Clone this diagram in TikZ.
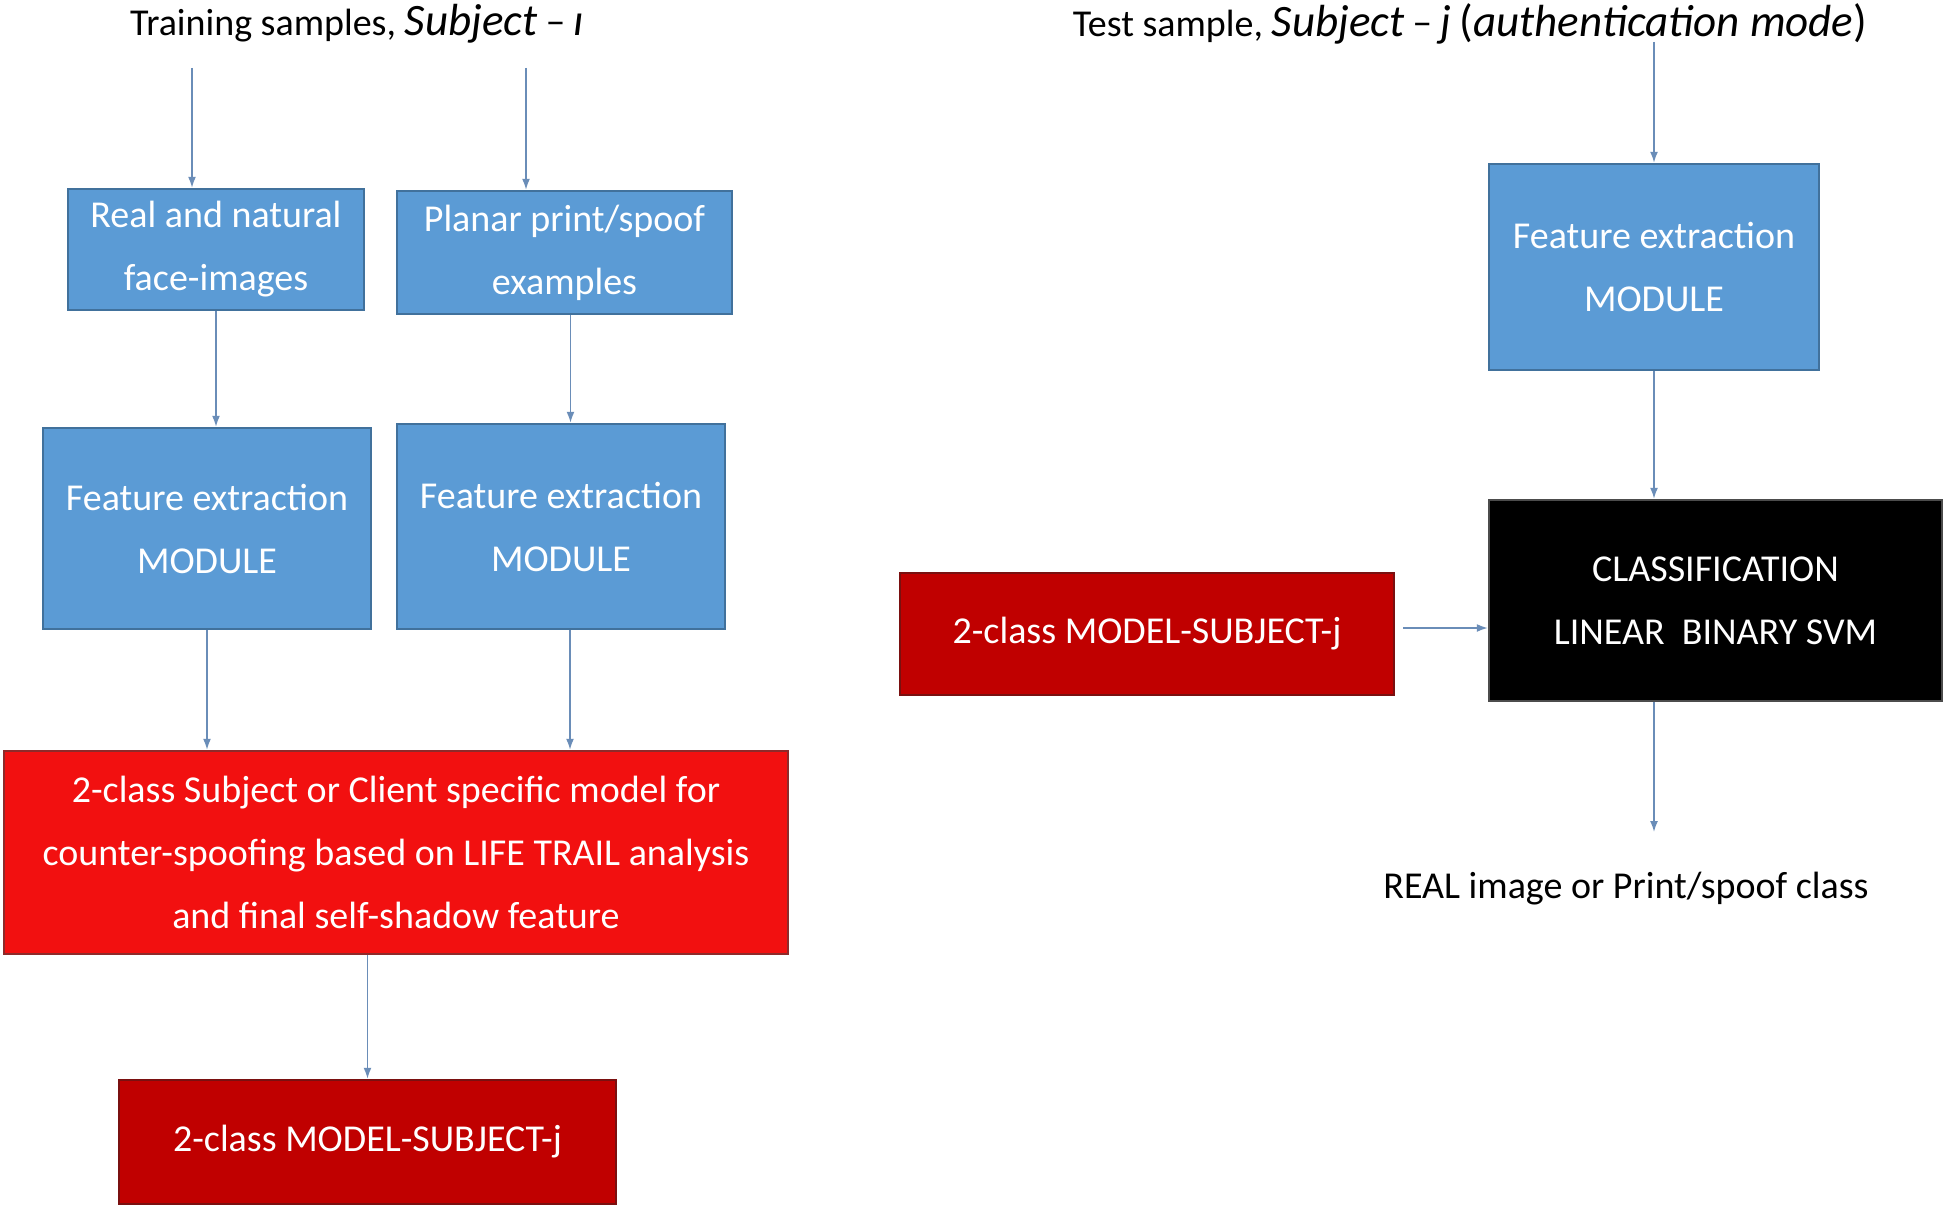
\documentclass[tikz,border=0pt]{standalone}
\usepackage{fontspec}
\setmainfont{Carlito}
\usetikzlibrary{arrows.meta,calc}
\definecolor{bluefill}{HTML}{5B9BD5}
\definecolor{blueline}{HTML}{41719C}
\definecolor{redfill}{HTML}{F21010}
\definecolor{redline}{HTML}{8E2A2A}
\definecolor{dredfill}{HTML}{C00000}
\definecolor{dredline}{HTML}{7A1010}
\definecolor{arrowc}{HTML}{6A8DB8}
\newcommand{\bigit}[1]{{\fontsize{45}{46}\selectfont\itshape #1}}
\tikzset{
  box/.style={draw, line width=2.5pt, inner sep=0pt, align=center, text=white,
    font=\fontsize{38}{63}\selectfont},
  bluebox/.style={box, fill=bluefill, draw=blueline},
  redbox/.style={box, fill=redfill, draw=redline},
  dredbox/.style={box, fill=dredfill, draw=dredline},
  blackbox/.style={box, fill=black, draw=black!70},
  lbl/.style={inner sep=0pt, font=\fontsize{38}{46}\selectfont, text=black},
  conn/.style={draw=arrowc, line width=1.6pt, -{Latex[length=11pt,width=8pt]}}
}
\begin{document}
\begin{tikzpicture}[x=1pt,y=-1pt]
\useasboundingbox (0,0) rectangle (1946,1207);
\fill[white] (0,0) rectangle (1946,1207);

% titles
\node[lbl] (tl) at (357,24) {Training samples, \bigit{Subject} − \bigit{ı}};
\node[lbl] (tr) at (1470,24) {Test sample, \bigit{Subject} − \bigit{j} {\fontsize{45}{46}\selectfont(}\bigit{authentication mode}{\fontsize{45}{46}\selectfont)}};

% left column
\node[bluebox, minimum width=296pt, minimum height=121pt] (A) at (216,249.5) {Real and natural\\face-images};
\node[bluebox, minimum width=335pt, minimum height=123pt] (B) at (564.5,252.5) {Planar print/spoof\\examples};
\node[bluebox, minimum width=328pt, minimum height=201pt] (C) at (207,528.5) {Feature extraction\\MODULE};
\node[bluebox, minimum width=328pt, minimum height=205pt] (D) at (561,526.5) {Feature extraction\\MODULE};
\node[redbox, minimum width=784pt, minimum height=203pt] (E) at (396,852.5) {2-class Subject or Client specific model for\\counter-spoofing based on LIFE TRAIL analysis\\and final self-shadow feature};
\node[dredbox, minimum width=497pt, minimum height=124pt] (F) at (367.5,1142) {2-class MODEL-SUBJECT-j};

% right column
\node[bluebox, minimum width=330pt, minimum height=206pt] (G) at (1654,267) {Feature extraction\\MODULE};
\node[blackbox, minimum width=453pt, minimum height=201pt] (H) at (1715.5,600.5) {CLASSIFICATION\\LINEAR\ \ BINARY SVM};
\node[dredbox, minimum width=494pt, minimum height=122pt] (I) at (1147,634) {2-class MODEL-SUBJECT-j};
\node[lbl] (out) at (1626,889) {REAL image or Print/spoof class};

% connector anchors
\coordinate (s1) at (192,68);
\coordinate (s2) at (526,68);
\coordinate (s3) at (1654,42);
\coordinate (o1) at (1654,832);

% connectors
\draw[conn] (s1) -- (s1 |- A.north);
\draw[conn] (s2) -- (s2 |- B.north);
\draw[conn] (A.south) -- (A.south |- C.north);
\draw[conn] ($(B.south)+(6,0)$) -- ($(B.south |- D.north)+(6,0)$);
\draw[conn] (C.south) -- (C.south |- E.north);
\draw[conn] ($(D.south)+(9,0)$) -- ($(D.south |- E.north)+(9,0)$);
\draw[conn] (F.north |- E.south) -- (F.north);
\draw[conn] (s3) -- (s3 |- G.north);
\draw[conn] (G.south) -- (G.south |- H.north);
\draw[conn] ($(I.east)+(8,-6)$) -- ($(I.east -| H.west)+(0,-6)$);
\draw[conn] (o1 |- H.south) -- (o1);
\end{tikzpicture}
\end{document}
